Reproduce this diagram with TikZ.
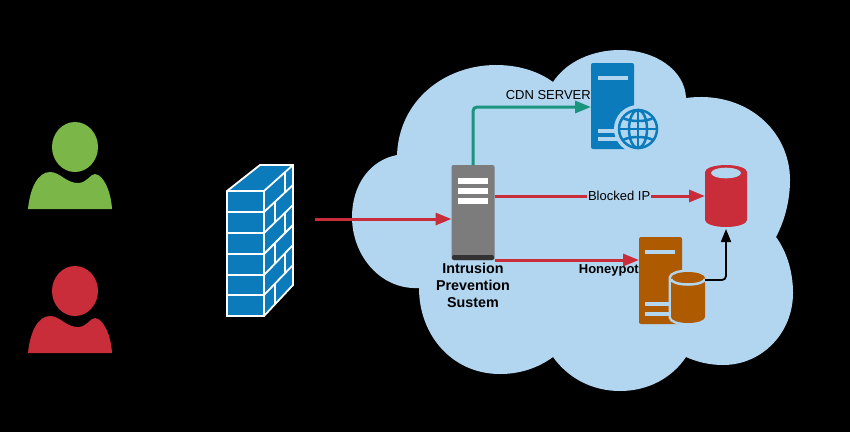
\documentclass[tikz,border=0pt]{standalone}
\usepackage{fontspec}
\setmainfont{Liberation Sans}
\usetikzlibrary{arrows.meta,positioning}
\definecolor{cloudblue}{HTML}{B2D5F0}
\definecolor{brickblue}{HTML}{0C7BBC}
\definecolor{alertred}{HTML}{C92D39}
\definecolor{okgreen}{HTML}{7AB648}
\definecolor{cdngreen}{HTML}{19967D}
\definecolor{potorange}{HTML}{AE5A00}
\definecolor{ipsgrey}{HTML}{7C7C7C}
\tikzset{
	tower/.style={rectangle, rounded corners=2pt, inner sep=0pt, outer sep=0pt, minimum width=43pt, minimum height=#1},
	store/.style={rectangle, inner sep=0pt, outer sep=0pt},
	flow/.style={draw=alertred, line width=3pt, -{Triangle[length=16pt,width=12pt]}},
	brick/.style={white, line width=1.8pt},
	tag/.style={inner sep=1pt, font=\fontsize{13}{15}\selectfont},
	boldtag/.style={tag, font=\fontsize{13}{15}\selectfont\bfseries},
	person/.pic={
		\fill[pic actions] (75,147) ellipse (23 and 25);
		\fill[pic actions] (28,209) .. controls (30,188) and (38,172) .. (50,172)
			.. controls (60,172) and (66,183) .. (78,183)
			.. controls (87,183) and (90,174) .. (95,174)
			.. controls (104,175) and (111,192) .. (112,209) -- cycle;
	}
}
\newcommand{\towerslot}[4]{
	\fill[#1] (#2,#3) rectangle (#2+#4,#3+4);
}
% centre x, y of the top curve, y of the bottom curve, radii
\newcommand{\storepath}[5]{
	(#1-#4,#2) arc (180:360:#4 and #5) -- (#1+#4,#3) arc (0:180:#4 and #5) -- cycle
}
\begin{document}
\begin{tikzpicture}[x=1pt,y=-1pt]
	\fill[black] (0,0) rectangle (850,432);

	% Users on the left are drawn.
	\pic[okgreen] at (0,0) {person};
	\pic[alertred] at (0,144) {person};

	% Firewall is drawn.
	\fill[brickblue] (227,191) -- (260,165) -- (293,165) -- (293,285) -- (264,316) -- (227,316) -- cycle;
	\draw[brick, line join=miter] (227,191) -- (260,165) -- (293,165) -- (293,285) -- (264,316) -- (227,316) -- cycle;
	\draw[brick] (227,191) -- (264,191) -- (293,165);
	\draw[brick] (264,191) -- (264,316);
	\foreach \yfront/\yside in {212/185,233/205,254/225,275/245,295/265}
		\draw[brick] (227,\yfront) -- (264,\yfront) -- (293,\yside);
	\foreach \xbrick/\ya/\yb in {285/172/193,275/202/222,285/213/233,275/243/264,285/253/273,275/284/304}
		\draw[brick] (\xbrick,\ya) -- (\xbrick,\yb);

	% Cloud is drawn.
	\fill[cloudblue] (397,155) .. controls (399,100) and (445,65) .. (496,65)
		.. controls (518,65) and (538,71) .. (553,82)
		.. controls (566,62) and (592,50) .. (620,50)
		.. controls (655,50) and (685,70) .. (686,98)
		.. controls (745,90) and (790,130) .. (790,180)
		.. controls (790,200) and (785,220) .. (776,237)
		.. controls (787,252) and (793,272) .. (793,293)
		.. controls (793,333) and (762,365) .. (723,365)
		.. controls (710,365) and (697,362) .. (686,357)
		.. controls (672,378) and (648,391) .. (620,391)
		.. controls (592,391) and (568,378) .. (553,357)
		.. controls (538,368) and (520,374) .. (500,374)
		.. controls (452,374) and (419,335) .. (419,288)
		.. controls (380,290) and (352,255) .. (352,217)
		.. controls (352,185) and (370,160) .. (397,155) -- cycle;

	% Intrusion prevention system is drawn.
	\node[tower=95pt, fill=ipsgrey] (ips) at (473,212.5) {};
	\fill[black!60!ipsgrey, rounded corners=2pt] (452,255) rectangle (494,260);
	\foreach \yslot in {178,188,198}
		\fill[white] (458,\yslot) rectangle (488,\yslot+6);
	\node[boldtag, font=\fontsize{14.3}{17}\selectfont\bfseries, align=center, below=2pt of ips] (ipslabel) {Intrusion\\Prevention\\Sustem};

	% CDN server is drawn.
	\node[tower=86pt, fill=brickblue] (cdn) at (612.5,106) {};
	\towerslot{cloudblue}{598}{76}{30}
	\towerslot{cloudblue}{598}{129}{20}
	\towerslot{cloudblue}{598}{137}{20}
	\fill[cloudblue] (638,129) circle (24);
	\begin{scope}[brickblue, line width=2.5pt]
		\draw (638,129) circle (19);
		\draw (638,129) ellipse (9 and 19);
		\draw (638,110) -- (638,148);
		\draw (619,129) -- (657,129);
		\draw (623,118) .. controls (630,122) and (646,122) .. (653,118);
		\draw (623,140) .. controls (630,136) and (646,136) .. (653,140);
	\end{scope}
	\node[tag, above left=5pt and -1pt of cdn.west] (cdnlabel) {CDN SERVER};

	% Blocked IP store is drawn.
	\node[store, minimum width=42pt, minimum height=62pt] (blocked) at (726,196) {};
	\fill[alertred] \storepath{726}{172}{220}{21}{7};
	\fill[cloudblue] (726,173) ellipse (15 and 5.3);

	% Honeypot with its database is drawn.
	\node[tower=87pt, fill=potorange] (honeypot) at (660.5,280.5) {};
	\towerslot{cloudblue}{645}{250}{30}
	\towerslot{cloudblue}{645}{302}{25}
	\towerslot{cloudblue}{645}{312}{25}
	\node[store, minimum width=34pt, minimum height=51pt] (hpdb) at (688,297.5) {};
	\draw[cloudblue, line width=5pt] \storepath{688}{278}{317}{17}{6};
	\fill[potorange] \storepath{688}{278}{317}{17}{6};
	\draw[cloudblue, line width=2.5pt] (671,279) arc (180:0:17 and 5.5);
	\node[boldtag, left=-1pt of honeypot.west, yshift=10pt] (hplabel) {Honeypot};

	% Connectors are drawn.
	\coordinate (fwout) at (315,219);
	\draw[flow] (fwout) -- (ips.west |- fwout);
	\draw[flow, draw=cdngreen, rounded corners=4pt] (ips.north) |- (cdn.west |- 0,107);
	\draw[flow] (ips.east |- 0,196) -- (blocked.west |- 0,196)
		node[tag, pos=0.592, fill=cloudblue] (blockedlabel) {Blocked IP};
	\draw[flow] (ips.south east |- 0,260) -- (honeypot.west |- 0,260);
	\draw[draw=black, line width=1.8pt, rounded corners=4pt, shorten >=2pt, -{Triangle[length=13pt,width=10pt]}] (hpdb.east |- 0,280) -| (blocked.south);
\end{tikzpicture}
\end{document}
